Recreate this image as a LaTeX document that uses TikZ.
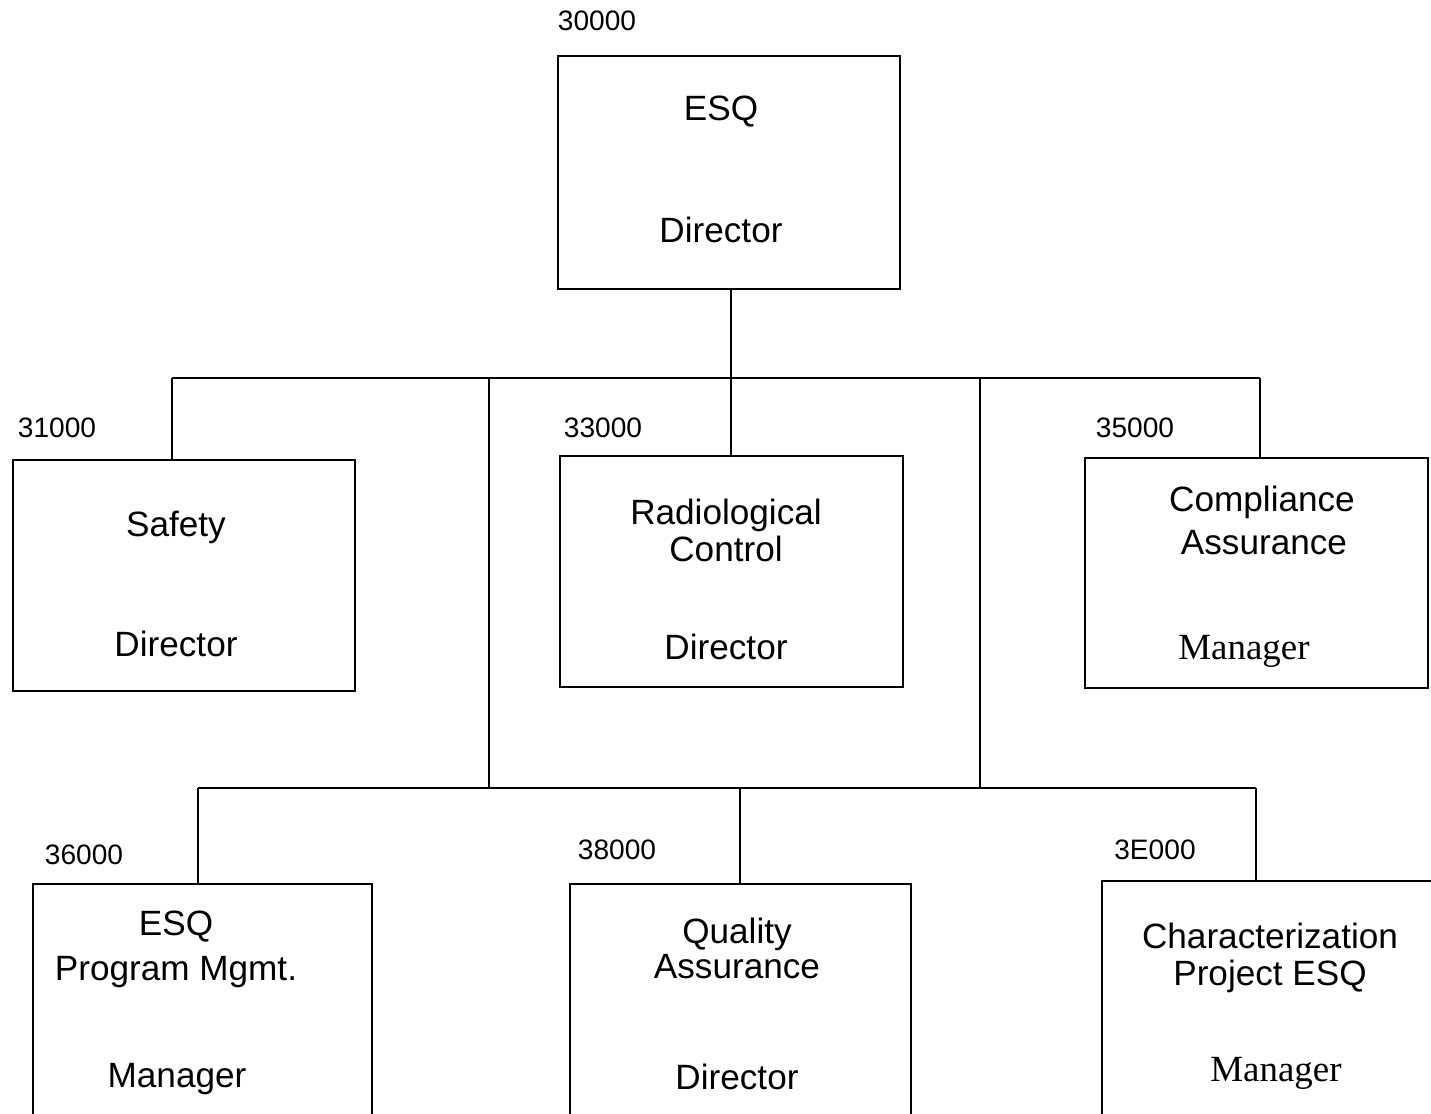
\documentclass[tikz,border=0pt]{standalone}
\usepackage{fontspec}
\setmainfont{Liberation Sans}
\newfontfamily\mgrfont{Liberation Serif}
\begin{document}
\begin{tikzpicture}[
  line width=1.4pt,
  unit/.style={draw, rectangle, inner sep=0pt},
  num/.style={font=\fontsize{16}{19}\selectfont, anchor=base, inner sep=0pt},
  txt/.style={font=\fontsize{20}{24}\selectfont, anchor=base, inner sep=0pt},
  mgr/.style={font=\mgrfont\fontsize{21}{25}\selectfont, anchor=base, inner sep=0pt}
]
\clip (0,0) rectangle (28.62,-22.28);

% boxes
\node[unit, minimum width=6.84cm, minimum height=4.66cm] (top) at (14.58,-3.45) {};
\node[unit, minimum width=6.84cm, minimum height=4.62cm] (safety) at (3.68,-11.51) {};
\node[unit, minimum width=6.86cm, minimum height=4.62cm] (radio) at (14.63,-11.43) {};
\node[unit, minimum width=6.86cm, minimum height=4.60cm] (comp) at (25.13,-11.46) {};
\node[unit, minimum width=6.78cm, minimum height=5.12cm] (pm) at (4.05,-20.24) {};
\node[unit, minimum width=6.82cm, minimum height=5.12cm] (qa) at (14.81,-20.24) {};
\node[unit, minimum width=7.16cm, minimum height=5.18cm] (char) at (25.62,-20.21) {};

% unit numbers
\node[num] (n30) at (11.94,-0.60) {30000};
\node[num] (n31) at (1.14,-8.74) {31000};
\node[num] (n33) at (12.06,-8.74) {33000};
\node[num] (n35) at (22.70,-8.74) {35000};
\node[num] (n36) at (1.68,-17.28) {36000};
\node[num] (n38) at (12.34,-17.18) {38000};
\node[num] (n3E) at (23.10,-17.18) {3E000};

% box texts
\node[txt] (a1) at (14.42,-2.40) {ESQ};
\node[txt] (a2) at (14.42,-4.84) {Director};
\node[txt] (b1) at (3.52,-10.72) {Safety};
\node[txt] (b2) at (3.52,-13.12) {Director};
\node[txt] (c1) at (14.52,-10.48) {Radiological};
\node[txt] (c2) at (14.52,-11.22) {Control};
\node[txt] (c3) at (14.52,-13.18) {Director};
\node[txt] (d1) at (25.24,-10.22) {Compliance};
\node[txt] (d2) at (25.28,-11.08) {Assurance};
\node[mgr] (d3) at (24.88,-13.18) {Manager};
\node[txt] (e1) at (3.52,-18.70) {ESQ};
\node[txt] (e2) at (3.52,-19.60) {Program Mgmt.};
\node[txt] (e3) at (3.54,-21.74) {Manager};
\node[txt] (f1) at (14.74,-18.86) {Quality};
\node[txt] (f2) at (14.74,-19.56) {Assurance};
\node[txt] (f3) at (14.74,-21.78) {Director};
\node[txt] (g1) at (25.40,-18.96) {Characterization};
\node[txt] (g2) at (25.40,-19.70) {Project ESQ};
\node[mgr] (g3) at (25.52,-21.62) {Manager};

% bus junctions
\coordinate (u1) at (3.44,-7.56);
\coordinate (u2) at (9.78,-7.56);
\coordinate (u3) at (14.62,-7.56);
\coordinate (u4) at (19.60,-7.56);
\coordinate (u5) at (25.20,-7.56);
\coordinate (l1) at (3.96,-15.76);
\coordinate (l2) at (9.78,-15.76);
\coordinate (l3) at (14.80,-15.76);
\coordinate (l4) at (19.60,-15.76);
\coordinate (l5) at (25.12,-15.76);

% connectors
\draw (top.south -| u3) -- (u3);
\draw (u1) -- (u5);
\draw (u1) -- (safety.north -| u1);
\draw (u3) -- (radio.north -| u3);
\draw (u5) -- (comp.north -| u5);
\draw (u2) -- (l2);
\draw (u4) -- (l4);
\draw (l1) -- (l5);
\draw (l1) -- (pm.north -| l1);
\draw (l3) -- (qa.north -| l3);
\draw (l5) -- (char.north -| l5);
\end{tikzpicture}
\end{document}
